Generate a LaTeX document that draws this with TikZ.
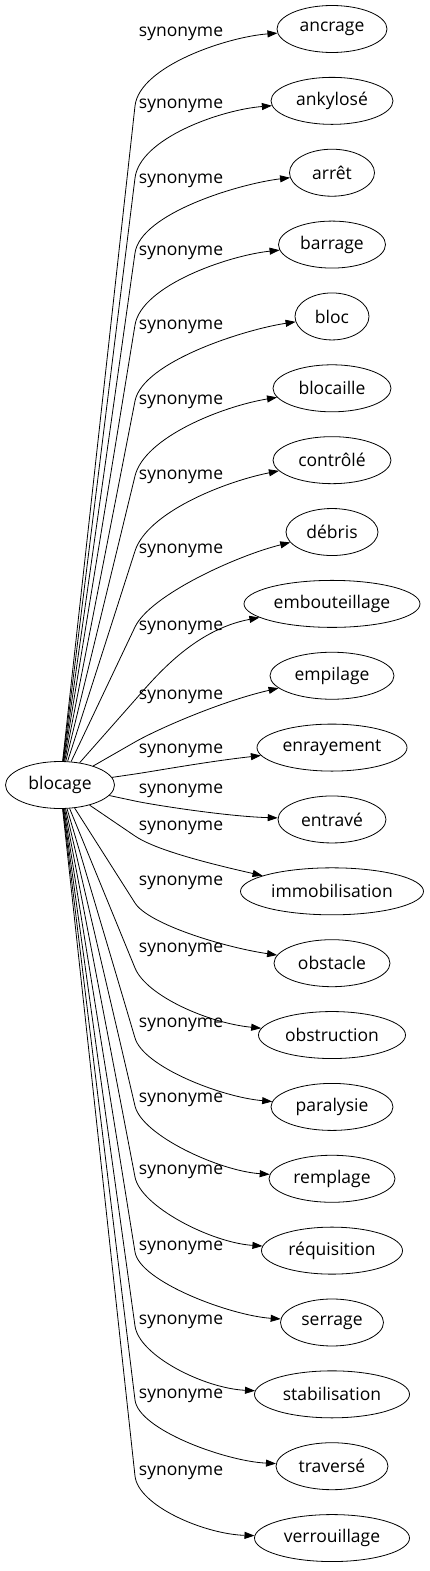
\documentclass[tikz,border=0pt]{standalone}
\usepackage{fontspec}
\setmainfont{Open Sans}
\usetikzlibrary{arrows.meta,calc,shapes.geometric}

\begin{document}
\begin{tikzpicture}[x=1pt,y=-1pt,
    word/.style={draw, ellipse, line width=0.8pt, minimum height=47pt, inner sep=0pt,
      font=\fontsize{17.5}{20}\selectfont},
    rel/.style={inner sep=0pt, font=\fontsize{17.5}{20}\selectfont},
    syn/.style={-{Triangle[length=10pt,width=7pt]}, line width=0.8pt},
    ]
\useasboundingbox (0,0) rectangle (430,1571);

\node[word, minimum width=109pt] (blocage) at (60,785) {blocage};

\foreach \wrd/\wdt/\ly/\ky/\ty/\kd [count=\i from 0,
    evaluate=\i as \ny using {29+71.86*\i}] in {
    ancrage/110/34/106/8/40, ankylosé/122/106/178/9/40,
    arrêt/85/181/253/11/40, barrage/107/253/325/11/40,
    bloc/74/327/401/13/40, blocaille/118/402/476/18/40,
    contrôlé/118/477/551/22/40, débris/92/551/627/24/35,
    embouteillage/176/628/700/26/30, empilage/124/697/742/26/25,
    enrayement/150/751/774/14/20, entravé/108/791/801/-3/20,
    immobilisation/183/828/836/-32/20, obstacle/116/883/903/-16/25,
    obstruction/147/950/968/-12/30, paralysie/122/1025/1038/-10/30,
    remplage/126/1100/1106/-8/30, réquisition/141/1172/1177/-8/30,
    serrage/103/1248/1252/-7/30, stabilisation/155/1322/1326/-6/30,
    traversé/112/1396/1400/-5/30, verrouillage/155/1473/1476/-4/30}
{
  \node[word, minimum width=\wdt pt] (t\i) at (332,\ny) {\wrd};
  \node[rel] (l\i) at (181,\ly) {synonyme};
  \coordinate (k\i) at (135,\ky);
  \draw[syn] (blocage) -- (k\i)
    .. controls ($(k\i)!-\kd pt!(blocage)$) and ($(t\i.west)+(-50,\ty)$) .. (t\i);
}
\end{tikzpicture}
\end{document}
